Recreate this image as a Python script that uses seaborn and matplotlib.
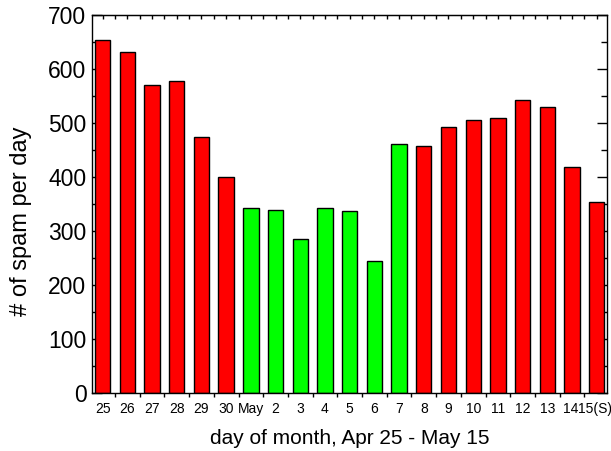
import numpy as np
import pandas as pd
import seaborn as sns
import matplotlib.pyplot as plt
import matplotlib.transforms as mtransforms
from matplotlib.ticker import MultipleLocator

days = ['25', '26', '27', '28', '29', '30', 'May', '2', '3', '4', '5',
        '6', '7', '8', '9', '10', '11', '12', '13', '14', '15(S)']
spam = [653, 630, 570, 577, 473, 400, 342, 338, 285, 341, 336,
        243, 460, 457, 491, 504, 509, 541, 528, 417, 352]
groups = ['red'] * 6 + ['green'] * 7 + ['red'] * 8
colors = {'red': '#ff0000', 'green': '#00ff00'}

df = pd.DataFrame({'day': days, 'spam': spam, 'group': groups})

sns.set_style('white')
plt.rcParams['font.family'] = ['Liberation Sans', 'DejaVu Sans']
plt.rcParams['text.color'] = 'black'
plt.rcParams['axes.labelcolor'] = 'black'
plt.rcParams['xtick.color'] = 'black'
plt.rcParams['ytick.color'] = 'black'

fig = plt.figure(figsize=(6.11, 4.51), dpi=100)
ax = fig.add_axes([0.1506, 0.1297, 0.843, 0.838])

sns.barplot(data=df, x='day', y='spam', hue='group', order=days,
            palette=colors, saturation=1, dodge=False, width=0.62,
            edgecolor='black', linewidth=1.0, legend=False, ax=ax)

ax.set_xlim(-0.43, 20.42)
ax.set_ylim(0, 700)

for s in ax.spines.values():
    s.set_color('black')
    s.set_linewidth(1.0)

# y ticks: major every 100, minor every 50, inward on both sides
ax.yaxis.set_major_locator(MultipleLocator(100))
ax.yaxis.set_minor_locator(MultipleLocator(50))
ax.tick_params(axis='y', which='major', direction='in', length=7, width=1,
               left=True, right=True, labelsize=16.5, pad=4)
ax.tick_params(axis='y', which='minor', direction='in', length=4, width=1,
               left=True, right=True)

# x ticks: inward at bar centres, small outward ones between bars
ax.set_xticks(np.arange(len(days)))
ax.set_xticklabels(days)
ax.set_xticks(np.arange(len(days) - 1) + 0.5, minor=True)
ax.tick_params(axis='x', which='major', direction='in', length=8, width=1,
               bottom=True, top=False, labelsize=10, pad=7)
ax.tick_params(axis='x', which='minor', direction='out', length=3, width=1,
               bottom=True, top=False)

# nudge the last two labels so they stay inside the figure
labels = ax.get_xticklabels()
for lab, dx in [(labels[-2], -1), (labels[-1], -2)]:
    lab.set_transform(lab.get_transform() +
                      mtransforms.ScaledTranslation(dx / 100, 0, fig.dpi_scale_trans))

top = ax.secondary_xaxis('top')
top.set_xticks(np.arange(-0.5, len(days), 0.5))
top.tick_params(direction='in', length=3, width=1, labeltop=False)

ax.set_xlabel('day of month, Apr 25 - May 15', fontsize=15, labelpad=9)
ax.set_ylabel('# of spam per day', fontsize=17)
ax.yaxis.set_label_coords(-0.117, 0.454)

fig.savefig('out.png', dpi=100)
